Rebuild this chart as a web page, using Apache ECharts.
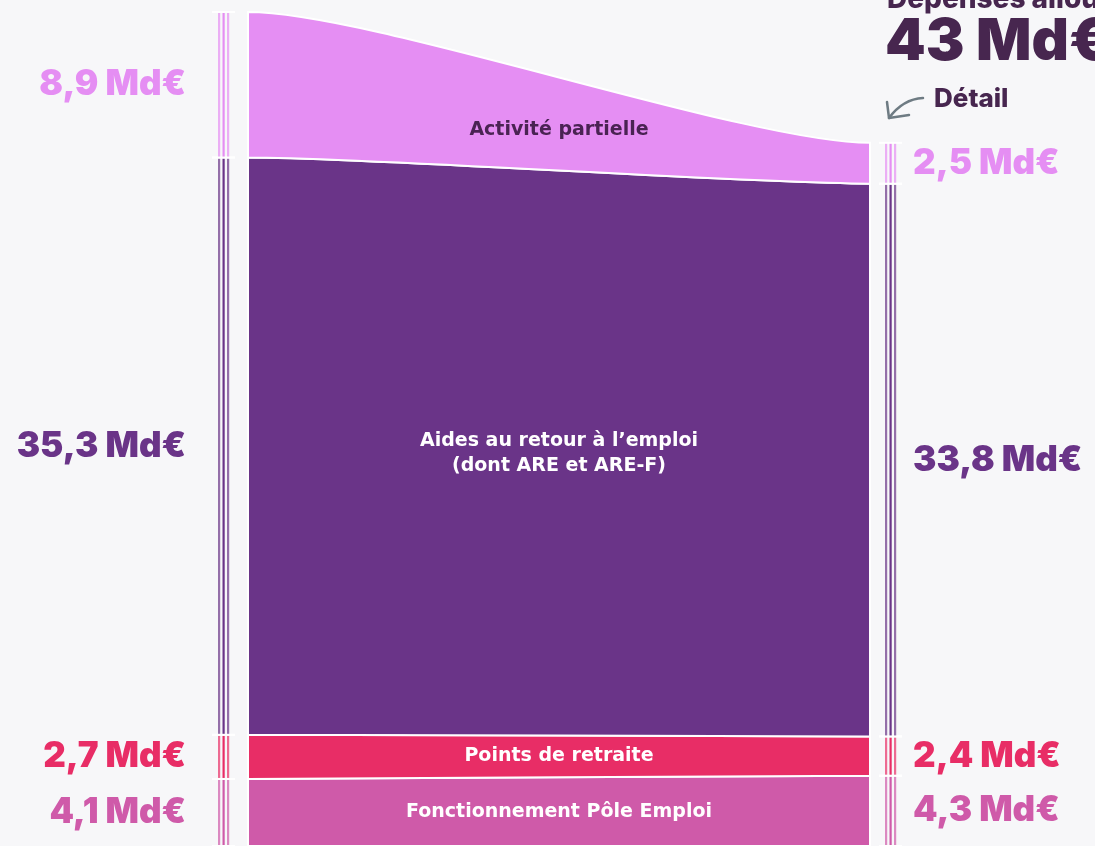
<!DOCTYPE html>
<html>
<head>
<meta charset="utf-8">
<script src="https://cdn.jsdelivr.net/npm/echarts@6/dist/echarts.min.js"></script>
<style>
    html, body { margin: 0; padding: 0; background: #f7f7f9; }
    #box1 { width: 1095px; height: 846px; }
</style>
</head>
<body>
<div id="box1"></div>
<script>
// de bas en haut
const aCategories = ['Fonctionnement Pôle Emploi', 'Points de retraite', 'Aides au retour à l’emploi\n(dont ARE et ARE-F)', 'Activité partielle'];
const aLeftValues = [4.1, 2.7, 35.3, 8.9];
const aRightValues = [4.3, 2.4, 33.8, 2.5];
const aLeftLabels = ['4,1 Md€', '2,7 Md€', '35,3 Md€', '8,9 Md€'];
const aRightLabels = ['4,3 Md€', '2,4 Md€', '33,8 Md€', '2,5 Md€'];
const sTotalRight = '43 Md€';

const aColors = ['#cf5aa9', '#e82d66', '#6a3488', '#e58ef3'];
const aInnerTextColors = ['#ffffff', '#ffffff', '#ffffff', '#4a2353'];
const sFontHeavy = 'Inter, "DejaVu Sans", sans-serif';
const sFontInner = '"DejaVu Sans", sans-serif';

const iLeftMax = aLeftValues.reduce((a, b) => a + b, 0);

function sumBefore(arr, idx){
    return arr.slice(0, idx).reduce((a, b) => a + b, 0);
}

// ▼trois fines barres verticales
function tripleBar(x, yTop, yBottom, color){
    const aX = [x, x + 4.5, x + 9];
    const aOpacity = [0.7, 1, 0.7];
    return aX.map((cur, i) => ({
        type: 'rect',
        shape: { x: cur, y: yTop, width: 2.2, height: yBottom - yTop },
        style: { fill: color, opacity: aOpacity[i] },
    }));
}

function renderItem(params, api){
    const i = params.dataIndex;
    const l0 = sumBefore(aLeftValues, i), l1 = l0 + aLeftValues[i];
    const r0 = sumBefore(aRightValues, i), r1 = r0 + aRightValues[i];
    const pL0 = api.coord([0, l0]), pL1 = api.coord([0, l1]);
    const pR0 = api.coord([1, r0]), pR1 = api.coord([1, r1]);
    const w = pR0[0] - pL0[0];
    const xa = pL0[0] + w * 0.2, xb = pR0[0] - w * 0.2;
    const xm = (pL0[0] + pR0[0]) / 2;
    const sPath = `M${pL1[0]} ${pL1[1]} C${xa} ${pL1[1]} ${xb} ${pR1[1]} ${pR1[0]} ${pR1[1]}`
        + ` L${pR0[0]} ${pR0[1]} C${xb} ${pR0[1]} ${xa} ${pL0[1]} ${pL0[0]} ${pL0[1]} Z`;
    const color = aColors[i];
    const children = [{
        type: 'path',
        shape: { pathData: sPath },
        style: { fill: color, stroke: '#ffffff', lineWidth: 2 },
    }];
    children.push(...tripleBar(pL0[0] - 30, pL1[1], pL0[1], color));
    children.push(...tripleBar(pR0[0] + 15, pR1[1], pR0[1], color));
    // séparateurs blancs
    [pL0[1], pL1[1]].forEach(y => children.push({
        type: 'line', shape: { x1: pL0[0] - 36, y1: y, x2: pL0[0] - 13, y2: y },
        style: { stroke: '#ffffff', lineWidth: 2 },
    }));
    [pR0[1], pR1[1]].forEach(y => children.push({
        type: 'line', shape: { x1: pR0[0] + 9, y1: y, x2: pR0[0] + 32, y2: y },
        style: { stroke: '#ffffff', lineWidth: 2 },
    }));
    children.push({
        type: 'text',
        style: {
            x: pL0[0] - 62, y: (pL0[1] + pL1[1]) / 2,
            text: aLeftLabels[i], fill: color,
            font: `900 35px ${sFontHeavy}`, align: 'right', verticalAlign: 'middle',
        },
    });
    children.push({
        type: 'text',
        style: {
            x: pR0[0] + 43, y: (pR0[1] + pR1[1]) / 2,
            text: aRightLabels[i], fill: color,
            font: `900 35px ${sFontHeavy}`, align: 'left', verticalAlign: 'middle',
        },
    });
    children.push({
        type: 'text',
        style: {
            x: xm, y: (pL0[1] + pL1[1] + pR0[1] + pR1[1]) / 4 + (i === 3 ? 6 : 0),
            text: aCategories[i], fill: aInnerTextColors[i],
            font: `bold 19px ${sFontInner}`, align: 'center', verticalAlign: 'middle',
            lineHeight: 25,
        },
    });
    return { type: 'group', children };
}

const myChart = echarts.init(document.getElementById('box1'));
const option = {
    backgroundColor: '#f7f7f9',
    animation: false,
    grid: { left: 248, top: 12, width: 622, height: 835 },
    xAxis: { type: 'value', min: 0, max: 1, show: false },
    yAxis: { type: 'value', min: 0, max: iLeftMax, show: false },
    series: [{
        type: 'custom',
        renderItem,
        data: aCategories.map((cur, i) => [0, i]),
    }],
    graphic: [
        {
            type: 'text', x: 887, y: 14,
            style: { text: 'Dépenses allouées', fill: '#47264f', font: `800 28px ${sFontHeavy}`, verticalAlign: 'bottom' },
        },
        {
            type: 'text', x: 885, y: 43,
            style: { text: sTotalRight, fill: '#47264f', font: `900 58px ${sFontHeavy}`, verticalAlign: 'middle' },
        },
        {
            type: 'text', x: 934, y: 99,
            style: { text: 'Détail', fill: '#47264f', font: `800 26px ${sFontHeavy}`, verticalAlign: 'middle' },
        },
        {
            type: 'bezierCurve',
            shape: { x1: 923, y1: 98, cpx1: 903, cpy1: 99, x2: 889, y2: 118 },
            style: { fill: 'none', stroke: '#6e7b83', lineWidth: 2.5, lineCap: 'round' },
        },
        {
            type: 'polyline',
            shape: { points: [[887, 102], [889, 118], [909, 115]] },
            style: { fill: 'none', stroke: '#6e7b83', lineWidth: 2.5, lineCap: 'round', lineJoin: 'round' },
        },
    ],
};
myChart.setOption(option);
</script>
</body>
</html>
